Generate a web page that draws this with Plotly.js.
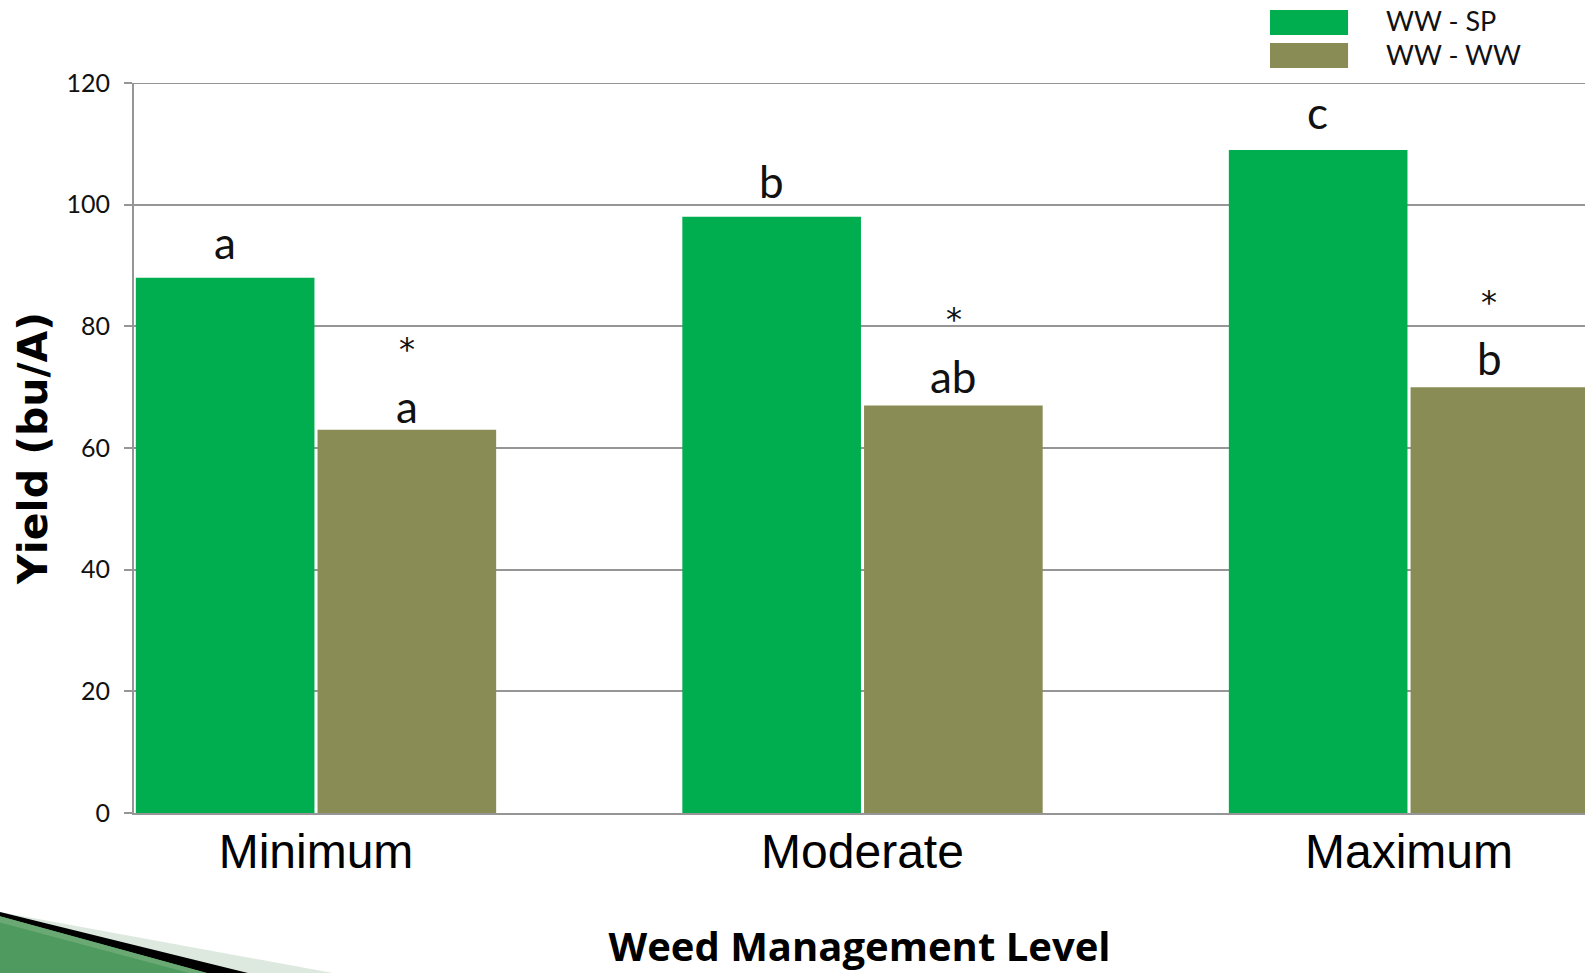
<!DOCTYPE html>
<html>
<head>
<meta charset="utf-8">
<script src="https://cdn.plot.ly/plotly-3.0.1.min.js"></script>
<style>html,body{margin:0;padding:0;background:#fff;}#chart{width:1585px;height:973px;}</style>
</head>
<body>
<div id="chart"></div>
<script>
// ---- data ----
const categories = ["Minimum", "Moderate", "Maximum"];
const seriesNames = ["WW - SP", "WW - WW"];
const wwSP = [88, 98, 109];
const wwWW = [63, 67, 70];
const lettersSP = ["a", "b", "c"];
const lettersWW = ["a", "ab", "b"];
const starsWW = ["*", "*", "*"];
const yTicks = [0, 20, 40, 60, 80, 100, 120];

// ---- styling ----
const colSP = "#00AE50";
const colWW = "#8A8C55";
const grid = "#969696";
const tickFont = "Lato, 'DejaVu Sans', sans-serif";
// pixel offsets of labels relative to bar tops / centres (styling only)
const letterShiftSP = [20, 20, 22];
const letterShiftWW = [8, 13, 13];
const starShiftWW = [72, 77, 76];
const labelXShiftWW = [0, 0, -11];

const traces = [
  {type: "bar", name: seriesNames[0], x: categories, y: wwSP, marker: {color: colSP}, showlegend: false, hoverinfo: "x+y+name"},
  {type: "bar", name: seriesNames[1], x: categories, y: wwWW, marker: {color: colWW}, showlegend: false, hoverinfo: "x+y+name"}
];

const off = 1 / 6;
const annotations = [];
categories.forEach((c, i) => {
  annotations.push({x: i - off, y: wwSP[i], xref: "x", yref: "y", text: lettersSP[i], showarrow: false,
    yanchor: "bottom", yshift: letterShiftSP[i] - 12, font: {family: tickFont, size: 44, color: "#111"}});
  annotations.push({x: i + off, y: wwWW[i], xref: "x", yref: "y", text: lettersWW[i], showarrow: false,
    xshift: labelXShiftWW[i], yanchor: "bottom", yshift: letterShiftWW[i] - 12, font: {family: tickFont, size: 44, color: "#111"}});
  annotations.push({x: i + off, y: wwWW[i], xref: "x", yref: "y", text: starsWW[i], showarrow: false,
    xshift: labelXShiftWW[i], yanchor: "bottom", yshift: starShiftWW[i] - 12, font: {family: "'DejaVu Sans', sans-serif", size: 32, color: "#111"}});
});

// manual legend
const legX0 = 0.7829, legX1 = 0.8367, legTx = 0.8615;
const legRows = [{y0: 1.0658, y1: 1.1, ty: 1.0863}, {y0: 1.0205, y1: 1.0548, ty: 1.0397}];
const shapes = [];
[colSP, colWW].forEach((col, k) => {
  shapes.push({type: "rect", xref: "paper", yref: "paper", x0: legX0, x1: legX1, y0: legRows[k].y0, y1: legRows[k].y1,
    fillcolor: col, line: {width: 0}});
  annotations.push({xref: "paper", yref: "paper", x: legTx, y: legRows[k].ty, xanchor: "left", yanchor: "middle",
    text: seriesNames[k], showarrow: false, font: {family: tickFont, size: 27, color: "#111"}});
});

// top gridline at the last tick (Plotly drops gridlines on the plot edge)
shapes.push({type: "line", xref: "paper", yref: "y", x0: 0, x1: 1, y0: yTicks[yTicks.length - 1], y1: yTicks[yTicks.length - 1],
  line: {color: grid, width: 2}, layer: "below"});

// decorative swoosh bottom-left
shapes.push({type: "path", xref: "paper", yref: "paper", layer: "above",
  path: "M -0.0924,-0.1355 L 0.1372,-0.2192 L -0.0924,-0.2192 Z", fillcolor: "#dde9df", line: {width: 0}});
shapes.push({type: "path", xref: "paper", yref: "paper", layer: "above",
  path: "M -0.0924,-0.1355 L 0.0786,-0.2192 L -0.0924,-0.2192 Z", fillcolor: "#000000", line: {width: 0}});
shapes.push({type: "path", xref: "paper", yref: "paper", layer: "above",
  path: "M -0.0924,-0.1415 L 0.0503,-0.2192 L -0.0924,-0.2192 Z", fillcolor: "#4f9a5e", line: {width: 0}});
shapes.push({type: "path", xref: "paper", yref: "paper", layer: "above",
  path: "M -0.0924,-0.1415 L 0.0503,-0.2192 L 0.0380,-0.2192 L -0.0924,-0.1500 Z", fillcolor: "#6aa973", line: {width: 0}});

const layout = {
  width: 1585, height: 973,
  margin: {l: 134, r: 0, t: 83, b: 160},
  paper_bgcolor: "#ffffff", plot_bgcolor: "#ffffff",
  barmode: "group", bargap: 0.335, bargroupgap: 0.017,
  xaxis: {
    type: "category", range: [-0.333, 2.322], fixedrange: true,
    showline: true, linecolor: grid, linewidth: 2, ticks: "", showgrid: false,
    ticklabelstandoff: -5,
    tickfont: {family: "'Liberation Sans', Arial, sans-serif", size: 48, color: "#000"},
    title: {text: "<b>Weed Management Level</b>", font: {family: "'Open Sans', sans-serif", size: 40, color: "#000"}, standoff: 64}
  },
  yaxis: {
    range: [0, 120], tickvals: yTicks, fixedrange: true,
    showgrid: true, gridcolor: grid, gridwidth: 2, zeroline: false,
    showline: true, linecolor: grid, linewidth: 2,
    ticks: "outside", ticklen: 8, tickwidth: 2, tickcolor: grid, ticklabelstandoff: 9,
    tickfont: {family: tickFont, size: 25, color: "#111"},
    title: {text: "<b>Yield (bu/A)</b>", font: {family: "'DejaVu Sans', sans-serif", size: 41, color: "#000"}, standoff: 6}
  },
  annotations: annotations,
  shapes: shapes,
  showlegend: false
};

Plotly.newPlot("chart", traces, layout, {displayModeBar: false, staticPlot: true});
</script>
</body>
</html>
